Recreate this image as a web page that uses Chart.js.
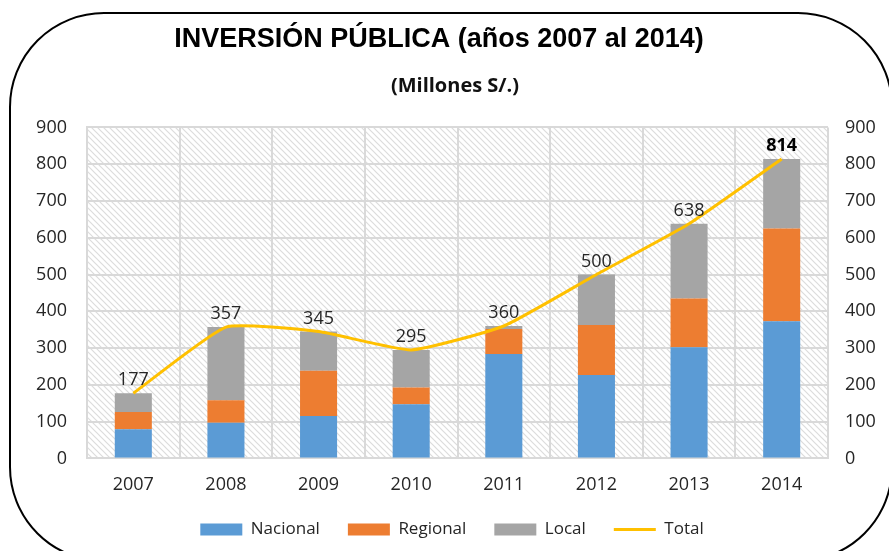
<!DOCTYPE html>
<html>
<head>
<meta charset="utf-8">
<script src="https://cdn.jsdelivr.net/npm/chart.js@4"></script>
<style>
  html, body { margin: 0; padding: 0; background: #fff; overflow: hidden; }
  #wrap { position: relative; width: 889px; height: 551px; }
  #frame {
    position: absolute; left: 9px; top: 12px; width: 884px; height: 550px;
    border: 2px solid #000; border-radius: 95px; box-sizing: border-box;
  }
  canvas { position: absolute; left: 0; top: 0; }
</style>
</head>
<body>
<div id="wrap">
  <div id="frame"></div>
  <canvas id="chart" width="889" height="551"></canvas>
</div>
<script>
// Data (millones S/.)
const years = ["2007", "2008", "2009", "2010", "2011", "2012", "2013", "2014"];
const nacional = [79, 97, 115, 147, 284, 227, 302, 373];
const regional = [47, 61, 123, 46, 68, 136, 133, 252];
const local = [51, 199, 107, 102, 8, 137, 203, 189];
const total = [177, 357, 345, 295, 360, 500, 638, 814];
const yTicks = [0, 100, 200, 300, 400, 500, 600, 700, 800, 900];

const FONT = "'Open Sans', sans-serif";
const TEXT = "#262626";
const SUBTITLE = "(Millones S/.)";

// diagonal hatch for the plot area
function makeHatch() {
    const c = document.createElement("canvas");
    c.width = 6; c.height = 6;
    const g = c.getContext("2d");
    g.fillStyle = "#ffffff";
    g.fillRect(0, 0, 6, 6);
    g.strokeStyle = "#dcdcdc";
    g.lineWidth = 1.2;
    g.beginPath();
    g.moveTo(-1, -1); g.lineTo(7, 7);
    g.moveTo(-1, 5); g.lineTo(1, 7);
    g.moveTo(5, -1); g.lineTo(7, 1);
    g.stroke();
    return g.createPattern(c, "repeat");
}

const hatchBg = {
    id: "hatchBg",
    beforeDraw(chart) {
        const { ctx, chartArea: a } = chart;
        ctx.save();
        ctx.fillStyle = makeHatch();
        ctx.fillRect(a.left, a.top, a.right - a.left, a.bottom - a.top);
        ctx.restore();
    }
};

// nudge legend and subtitle to where they sit in the original
const boxShift = {
    id: "boxShift",
    afterLayout(chart) {
        const lg = chart.legend;
        lg.top -= 16; lg.bottom -= 16;
        lg.left += 13; lg.right += 13;
        const sub = chart.boxes.find(b => b.options && b.options.text === SUBTITLE);
        if (sub) { sub.left += 16; sub.right += 16; }
    }
};

// total labels above the bars
const totalLabels = {
    id: "totalLabels",
    afterDatasetsDraw(chart) {
        const ctx = chart.ctx;
        const yScale = chart.scales.y;
        const xScale = chart.scales.x;
        ctx.save();
        ctx.textAlign = "center";
        ctx.textBaseline = "bottom";
        total.forEach((v, i) => {
            const last = i === total.length - 1;
            ctx.font = (last ? "bold " : "") + "18px " + FONT;
            ctx.fillStyle = last ? "#000" : TEXT;
            ctx.fillText(String(v), xScale.getPixelForValue(i), yScale.getPixelForValue(v) - 4);
        });
        ctx.restore();
    }
};

const tickOpts = { font: { family: FONT, size: 18 }, color: TEXT };

new Chart(document.getElementById("chart"), {
    data: {
        labels: years,
        datasets: [
            {
                type: "line", label: "Total", data: total,
                borderColor: "#FFC000", backgroundColor: "#FFC000",
                borderWidth: 3, pointRadius: 0, tension: 0.15, order: 0
            },
            { type: "bar", label: "Nacional", data: nacional, backgroundColor: "#5B9BD5", order: 1 },
            { type: "bar", label: "Regional", data: regional, backgroundColor: "#ED7D31", order: 1 },
            { type: "bar", label: "Local", data: local, backgroundColor: "#A5A5A5", order: 1 }
        ]
    },
    options: {
        responsive: false,
        animation: false,
        layout: { padding: { left: 0, right: 11, top: 0, bottom: -13 } },
        datasets: { bar: { barPercentage: 0.4, categoryPercentage: 1 } },
        scales: {
            x: {
                stacked: true,
                afterFit(s) { s.height -= 3; },
                grid: { color: "#d9d9d9", lineWidth: 2, drawTicks: false },
                border: { color: "#d9d9d9", width: 2 },
                ticks: { ...tickOpts, padding: 16 }
            },
            y: {
                stacked: true, min: 0, max: 900,
                afterBuildTicks(s) { s.ticks = yTicks.map(v => ({ value: v })); },
                afterFit(s) { s.width = 87; },
                grid: { color: "#d9d9d9", lineWidth: 2, drawTicks: false },
                border: { color: "#d9d9d9", width: 2 },
                ticks: { ...tickOpts, padding: 20 }
            },
            y2: {
                position: "right", min: 0, max: 900,
                afterBuildTicks(s) { s.ticks = yTicks.map(v => ({ value: v })); },
                afterFit(s) { s.width = 50; },
                grid: { display: false, drawTicks: false },
                border: { display: false },
                ticks: { ...tickOpts, padding: 17 }
            }
        },
        plugins: {
            title: {
                display: true,
                text: "INVERSIÓN PÚBLICA (años 2007 al 2014)",
                color: "#000",
                font: { family: "'Liberation Sans', Arial, sans-serif", size: 27, weight: "bold" },
                padding: { top: 23, bottom: 16 }
            },
            subtitle: {
                display: true,
                text: SUBTITLE,
                color: "#111",
                font: { family: FONT, size: 20, weight: "bold" },
                padding: { top: 3, bottom: 29 }
            },
            legend: {
                position: "bottom",
                labels: {
                    usePointStyle: true,
                    pointStyleWidth: 42,
                    boxHeight: 12,
                    padding: 28,
                    color: TEXT,
                    font: { family: FONT, size: 17 },
                    generateLabels(chart) {
                        const items = Chart.defaults.plugins.legend.labels.generateLabels(chart);
                        const order = ["Nacional", "Regional", "Local", "Total"];
                        items.forEach(it => {
                            if (it.text === "Total") {
                                it.pointStyle = "line";
                                it.lineWidth = 3;
                                it.strokeStyle = "#FFC000";
                            } else {
                                it.pointStyle = "rect";
                                it.lineWidth = 0;
                            }
                        });
                        return items.sort((a, b) => order.indexOf(a.text) - order.indexOf(b.text));
                    }
                }
            },
            tooltip: { enabled: false }
        }
    },
    plugins: [hatchBg, boxShift, totalLabels]
});
</script>
</body>
</html>
